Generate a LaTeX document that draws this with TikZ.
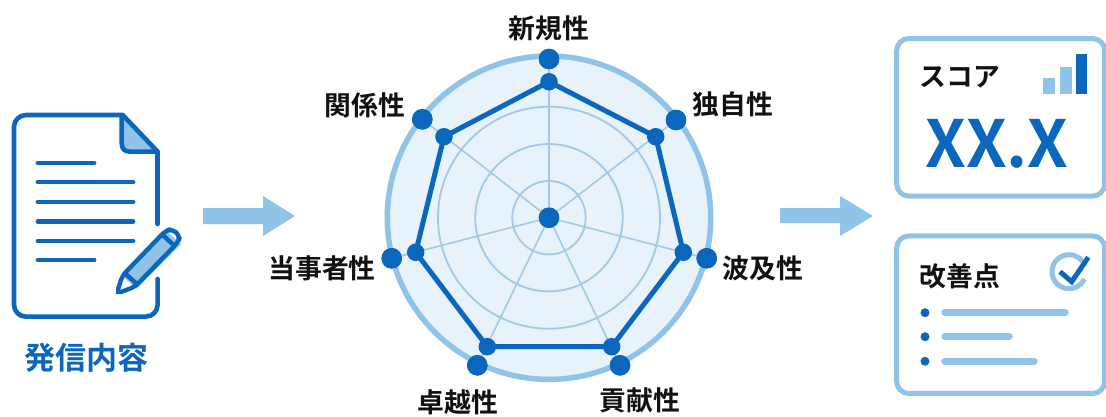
\documentclass[tikz,border=0pt]{standalone}
\usepackage{fontspec}
\setmainfont{Noto Sans CJK JP}[BoldFont={Noto Sans CJK JP Bold}]
\definecolor{dkblue}{HTML}{0B66BD}
\definecolor{ltblue}{HTML}{8FC4E8}
\definecolor{ringblue}{HTML}{A2CAE6}
\definecolor{paleblue}{HTML}{E7F2FA}
\definecolor{inktext}{HTML}{111111}
\tikzset{
  axislabel/.style={inner sep=0pt,text=inktext,font=\fontsize{26.8}{27}\selectfont\bfseries},
  outerdot/.style={circle,fill=dkblue,minimum size=20.5pt,inner sep=0pt},
  innerdot/.style={circle,fill=dkblue,minimum size=17.5pt,inner sep=0pt},
  ring/.style={draw=ringblue,line width=1.8pt},
  spoke/.style={draw=ringblue,line width=1.6pt},
  card/.style={draw=ltblue,line width=5pt,fill=white,rounded corners=12pt,inner sep=0pt,minimum width=208pt},
  docline/.style={draw=dkblue,line width=4.8pt,line cap=round},
  blockarrow/.style={fill=ltblue},
  listbar/.style={draw=ltblue,line width=7.5pt,line cap=round},
  listdot/.style={circle,fill=dkblue,minimum size=9pt,inner sep=0pt},
}
\begin{document}
\begin{tikzpicture}[x=1pt,y=-1pt]
\useasboundingbox (0,0) rectangle (1106,416);
\fill[white] (0,0) rectangle (1106,416);

% document icon
\begin{scope}[shift={(0,100)},x=.33333pt,y=-.33333pt]
  \path[fill=ltblue] (368,48) -- (473,155) -- (390,155) .. controls (372,155) and (365,145) .. (365,128) -- cycle;
  \draw[dkblue,line width=4.6pt,line join=round] (368,45) -- (473,155) -- (390,155) .. controls (372,155) and (365,145) .. (365,128) -- (365,45);
  \draw[dkblue,line width=4.6pt,line cap=round]
    (473,155) -- (473,372);
  \draw[dkblue,line width=4.6pt,line cap=round,rounded corners=12pt]
    (473,537) -- (473,650) -- (42,650) -- (42,45) -- (368,45);
  % pencil
  \fill[ltblue] (365,527) -- (497,392) -- (543,432) -- (409,566) -- cycle;
  \fill[white] (350,581) -- (365,527) -- (409,566) -- cycle;
  \draw[dkblue,line width=4.4pt,line join=round,rounded corners=5pt]
    (350,581) -- (367,527) -- (495,394) -- (515,386) -- (541,408) -- (533,428) -- (405,560) -- cycle;
  \draw[dkblue,line width=4.4pt] (486,403) -- (527,441);
  \draw[dkblue,line width=4.4pt] (375,520) -- (414,555);
  \fill[dkblue] (347,583) -- (352,563) -- (369,578) -- cycle;
\end{scope}
\draw[docline] (38,163) -- (94,163);
\draw[docline] (38,182) -- (133,182);
\draw[docline] (38,202) -- (133,202);
\draw[docline] (38,221.5) -- (133,221.5);
\draw[docline] (38,241) -- (133,241);
\draw[docline] (38,260) -- (94,260);
\node[inner sep=0pt,text=dkblue,font=\fontsize{31}{31}\selectfont\bfseries] (doclabel) at (86,358) {発信内容};

% block arrows
\fill[blockarrow] (203,208) -- (263,208) -- (263,196) -- (295,216) -- (263,236) -- (263,224) -- (203,224) -- cycle;
\fill[blockarrow] (780,208) -- (840,208) -- (840,196) -- (873,216) -- (840,236) -- (840,223) -- (780,223) -- cycle;

% radar
\coordinate (c) at (549,217.7);
\draw[draw=ltblue,fill=paleblue,line width=5.5pt] (c) circle (161.7);
\draw[ring] (c) circle (111);
\draw[ring] (c) circle (73.7);
\draw[ring] (c) circle (36.7);
\node[outerdot] (o1) at (549,59) {};
\node[outerdot] (o2) at (676,120) {};
\node[outerdot] (o3) at (706.7,258.3) {};
\node[outerdot] (o4) at (620,365.3) {};
\node[outerdot] (o5) at (477.3,365.3) {};
\node[outerdot] (o6) at (391.7,258.3) {};
\node[outerdot] (o7) at (422.3,119.3) {};
\node[outerdot] (center) at (c) {};
\foreach \i in {1,...,7} \draw[spoke] (center.center) -- (o\i.center);
\node[outerdot] at (o1) {};
\node[outerdot] at (o2) {};
\node[outerdot] at (o3) {};
\node[outerdot] at (o4) {};
\node[outerdot] at (o5) {};
\node[outerdot] at (o6) {};
\node[outerdot] at (o7) {};
\node[outerdot] at (c) {};
\node[innerdot] (i1) at (549,81.7) {};
\node[innerdot] (i2) at (655.7,136.7) {};
\node[innerdot] (i3) at (683.3,252.3) {};
\node[innerdot] (i4) at (611.7,346.7) {};
\node[innerdot] (i5) at (487.3,346.7) {};
\node[innerdot] (i6) at (415.7,252.3) {};
\node[innerdot] (i7) at (444,136.7) {};
\draw[dkblue,line width=5pt,line join=round] (i1.center) -- (i2.center) -- (i3.center) -- (i4.center) -- (i5.center) -- (i6.center) -- (i7.center) -- cycle;

\node[axislabel] (l1) at (549,28) {新規性};
\node[axislabel] (l2) at (733,104) {独自性};
\node[axislabel] (l3) at (763,268) {波及性};
\node[axislabel] (l4) at (640,400) {貢献性};
\node[axislabel] (l5) at (458,402) {卓越性};
\node[axislabel] (l6) at (322,268) {当事者性};
\node[axislabel] (l7) at (365,105) {関係性};

% score card
\node[card,minimum height=157.5pt] (score) at (1000.7,117.3) {};
\node[axislabel] (scorelabel) at (960,77) {スコア};
\fill[ltblue] (1043.3,78.3) rectangle (1055,94);
\fill[ltblue] (1060,66.7) rectangle (1071.7,94);
\fill[dkblue] (1076,54.3) rectangle (1087.3,94);
\node[inner sep=0pt,text=dkblue,font=\fontsize{65}{65}\selectfont\bfseries] (scoreval) at (997,143.5) {XX.X};

% improvement card
\node[card,minimum height=157.5pt] (improve) at (1000.7,314.7) {};
\node[axislabel] (improvelabel) at (960,276) {改善点};
\draw[draw=ltblue,line width=5pt] (1069,271.7) ++(25:17) arc[start angle=25,end angle=325,radius=17];
\draw[dkblue,line width=5pt,line join=miter] (1060,271.7) -- (1071.7,281.7) -- (1088.3,257.3);
\node[listdot] (b1) at (925,312.7) {};
\node[listdot] (b2) at (925,336.7) {};
\node[listdot] (b3) at (925,361.3) {};
\draw[listbar] (945,312.7) -- (1065,312.7);
\draw[listbar] (945,336.7) -- (1009,336.7);
\draw[listbar] (945,361.3) -- (1034,361.3);
\end{tikzpicture}
\end{document}
